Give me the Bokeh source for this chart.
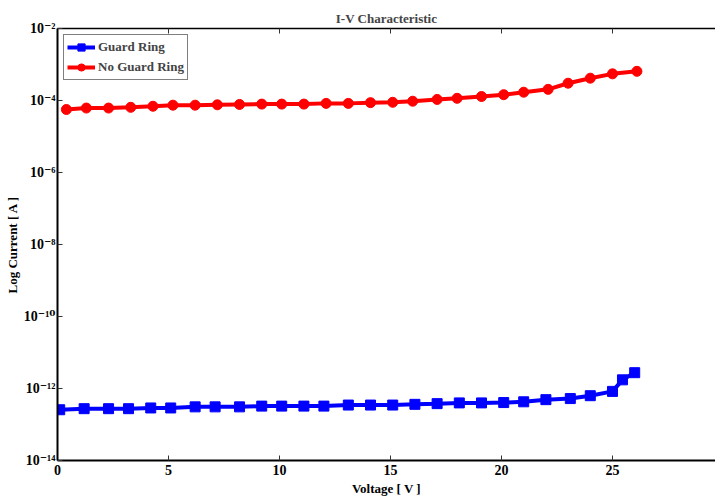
from bokeh.plotting import figure
from bokeh.models import (LinearAxis, FixedTicker, CustomJSTickFormatter, Range1d)
from bokeh.embed import file_html
from bokeh.resources import INLINE

# ---- data ----
v_guard = [0.1, 1.2, 2.3, 3.2, 4.2, 5.1, 6.2, 7.1, 8.2, 9.2, 10.1, 11.1, 12.0, 13.1,
           14.1, 15.1, 16.1, 17.1, 18.1, 19.1, 20.1, 21.0, 22.0, 23.1, 24.0, 25.0, 25.45, 26.0]
i_guard = [2.57e-13, 2.75e-13, 2.75e-13, 2.75e-13, 2.88e-13, 2.88e-13, 3.09e-13, 3.09e-13,
           3.09e-13, 3.24e-13, 3.24e-13, 3.24e-13, 3.24e-13, 3.47e-13, 3.47e-13, 3.47e-13,
           3.63e-13, 3.80e-13, 3.98e-13, 3.98e-13, 4.07e-13, 4.27e-13, 4.90e-13, 5.25e-13,
           6.31e-13, 8.32e-13, 1.74e-12, 2.75e-12]

v_noguard = [0.4, 1.3, 2.3, 3.3, 4.3, 5.2, 6.2, 7.2, 8.2, 9.2, 10.1, 11.1, 12.1, 13.1,
             14.1, 15.1, 16.0, 17.1, 18.0, 19.1, 20.1, 21.0, 22.1, 23.0, 24.0, 25.0, 26.1]
i_noguard = [5.62e-5, 6.17e-5, 6.17e-5, 6.46e-5, 6.92e-5, 7.41e-5, 7.41e-5, 7.59e-5, 7.76e-5,
             7.94e-5, 7.94e-5, 7.94e-5, 8.32e-5, 8.32e-5, 8.71e-5, 8.91e-5, 9.55e-5, 1.07e-4,
             1.15e-4, 1.29e-4, 1.45e-4, 1.70e-4, 2.04e-4, 3.02e-4, 4.17e-4, 5.50e-4, 6.46e-4]

x_ticks = [0, 5, 10, 15, 20, 25]
y_ticks = [1e-14, 1e-12, 1e-10, 1e-8, 1e-6, 1e-4, 1e-2]

FONT = "'Liberation Serif', 'Times New Roman', serif"
TICKFONT = "'Liberation Serif', 'DejaVu Serif', serif"

p = figure(width=715, height=499, y_axis_type="log",
           x_range=Range1d(0, 29.64), y_range=Range1d(1e-14, 1e-2),
           output_backend="svg", toolbar_location=None,
           min_border_left=57, min_border_right=0, min_border_top=28, min_border_bottom=39)

p.title.text = "I-V Characteristic"
p.title.align = "center"
p.title.text_font = FONT
p.title.text_font_size = "13px"
p.title.text_font_style = "bold"
p.title.offset = 0
p.title.standoff = 6

p.outline_line_color = None
p.xgrid.visible = False
p.ygrid.visible = False

# lines + markers
p.line(v_guard, i_guard, line_color="#0000FF", line_width=4, legend_label="Guard Ring")
p.scatter(v_guard, i_guard, marker="square", size=10, fill_color="#0000FF",
          line_color="#0000FF", legend_label="Guard Ring")
p.line(v_noguard, i_noguard, line_color="#FF0000", line_width=4, legend_label="No Guard Ring")
p.scatter(v_noguard, i_noguard, marker="circle", size=10, fill_color="#FF0000",
          line_color="#FF0000", legend_label="No Guard Ring")

# axes
xa = p.xaxis[0]
xa.ticker = FixedTicker(ticks=x_ticks)
xa.axis_label = "Voltage [ V ]"
ya = p.yaxis[0]
ya.ticker = FixedTicker(ticks=y_ticks)
ya.axis_label = "Log Current [ A ]"
ya.formatter = CustomJSTickFormatter(code="""
const e = Math.round(Math.log10(tick));
const sup = {'-':'\u207b','0':'\u2070','1':'\u00b9','2':'\u00b2','3':'\u00b3','4':'\u2074',
             '5':'\u2075','6':'\u2076','7':'\u2077','8':'\u2078','9':'\u2079'};
return '10' + String(e).split('').map(c => sup[c]).join('');
""")

for ax in (xa, ya):
    ax.axis_line_width = 2
    ax.axis_line_color = "black"
    ax.major_tick_in = 5
    ax.major_tick_out = 0
    ax.major_tick_line_color = "#333333"
    ax.minor_tick_line_color = None
    ax.major_label_text_font = TICKFONT
    ax.major_label_text_font_style = "bold"
    ax.major_label_text_font_size = "14px"
    ax.major_label_text_color = "black"
    ax.axis_label_text_font = FONT
    ax.axis_label_text_font_style = "bold"
    ax.axis_label_text_font_size = "13px"
    ax.axis_label_text_color = "black"
xa.major_label_standoff = 4
xa.axis_label_standoff = 3
ya.major_label_standoff = 2
ya.axis_label_standoff = 1

top = LinearAxis(ticker=FixedTicker(ticks=x_ticks),
                 formatter=CustomJSTickFormatter(code="return '';"))
top.axis_line_width = 1.5
top.axis_line_color = "black"
top.major_tick_in = 5
top.major_tick_out = 0
top.major_tick_line_color = "#333333"
top.minor_tick_line_color = None
top.major_label_standoff = 0
p.add_layout(top, "above")

# legend
lg = p.legend[0]
lg.location = "top_left"
lg.margin = 6
lg.border_line_color = "black"
lg.border_line_width = 1
lg.background_fill_alpha = 1
lg.label_text_font = FONT
lg.label_text_font_style = "bold"
lg.label_text_font_size = "13px"
lg.glyph_width = 28
lg.glyph_height = 18
lg.label_height = 18
lg.label_standoff = 3
lg.padding = 3
lg.spacing = 2

open("out.html", "w").write(file_html(p, INLINE))
